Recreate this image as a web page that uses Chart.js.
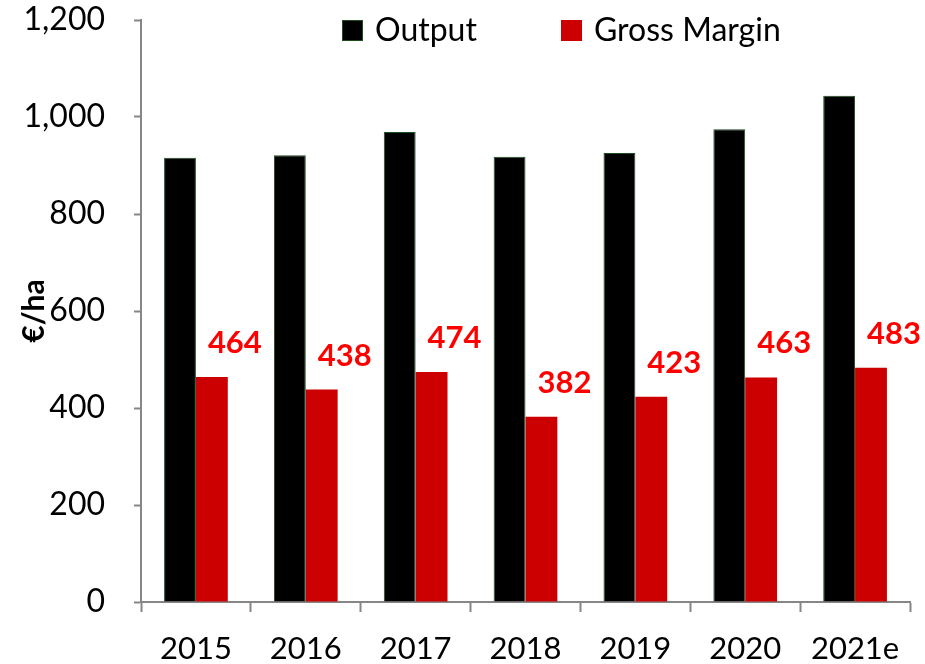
<!DOCTYPE html>
<html>
<head>
<meta charset="utf-8">
<script src="https://cdn.jsdelivr.net/npm/chart.js@4/dist/chart.umd.min.js"></script>
<style>
  html, body { margin: 0; padding: 0; background: #ffffff; }
  #wrap { width: 925px; height: 664px; position: relative; }
</style>
</head>
<body>
<div id="wrap"><canvas id="c" width="925" height="664"></canvas></div>
<script>
const categories = ['2015', '2016', '2017', '2018', '2019', '2020', '2021e'];
const outputValues = [916, 921, 969, 918, 926, 975, 1044];
const grossMarginValues = [464, 438, 474, 382, 423, 463, 483];
const seriesNames = ['Output', 'Gross Margin'];
const yAxisTitle = '€/ha';
const yMin = 0, yMax = 1200, yStep = 200;

const FONT = 'Lato, "Open Sans", sans-serif';
const AXIS_GRAY = '#868686';

const legendPlugin = {
  id: 'customLegend',
  afterDraw(chart) {
    const ctx = chart.ctx;
    const a = chart.chartArea;
    const items = chart.data.datasets;
    const starts = [a.left + 201, a.left + 420];
    ctx.save();
    ctx.font = '32px ' + FONT;
    ctx.textBaseline = 'middle';
    ctx.textAlign = 'left';
    items.forEach((ds, i) => {
      const x = starts[i];
      const y = 20;
      ctx.fillStyle = ds.backgroundColor;
      ctx.fillRect(x, y, 21, 21);
      if (ds.borderWidth) {
        ctx.strokeStyle = ds.borderColor;
        ctx.lineWidth = 1;
        ctx.strokeRect(x + 0.5, y + 0.5, 20, 20);
      }
      ctx.fillStyle = '#000000';
      ctx.fillText(ds.label, x + 33, y + 11);
    });
    ctx.restore();
  }
};

const labelPlugin = {
  id: 'gmLabels',
  afterDatasetsDraw(chart) {
    const ctx = chart.ctx;
    const meta = chart.getDatasetMeta(1);
    const data = chart.data.datasets[1].data;
    ctx.save();
    ctx.font = 'bold 31px ' + FONT;
    ctx.fillStyle = '#ff0000';
    ctx.textAlign = 'center';
    ctx.textBaseline = 'middle';
    meta.data.forEach((el, i) => {
      ctx.fillText(String(data[i]), el.x + 23, el.y - 34);
    });
    ctx.restore();
  }
};

new Chart(document.getElementById('c'), {
  type: 'bar',
  data: {
    labels: categories,
    datasets: [
      {
        label: seriesNames[0],
        data: outputValues,
        backgroundColor: '#000000',
        borderColor: '#1e4d1e',
        borderWidth: 1,
        borderSkipped: 'bottom'
      },
      {
        label: seriesNames[1],
        data: grossMarginValues,
        backgroundColor: '#cc0000',
        borderWidth: 0
      }
    ]
  },
  options: {
    responsive: false,
    animation: false,
    devicePixelRatio: 1,
    layout: { padding: { top: 20, right: 15, left: 0, bottom: 0 } },
    datasets: {
      bar: { categoryPercentage: 0.58, barPercentage: 1.0 }
    },
    plugins: {
      legend: { display: false },
      tooltip: { enabled: false }
    },
    scales: {
      x: {
        grid: {
          display: true,
          offset: true,
          drawOnChartArea: false,
          drawTicks: true,
          tickLength: 10,
          tickColor: AXIS_GRAY,
          tickWidth: 2
        },
        border: { display: true, color: AXIS_GRAY, width: 2 },
        ticks: {
          color: '#000000',
          font: { family: FONT, size: 31 },
          padding: 18,
          maxRotation: 0
        },
        afterFit(scale) { scale.height = 62; scale.paddingLeft = 0; scale.paddingRight = 0; }
      },
      y: {
        min: yMin,
        max: yMax,
        grid: {
          display: true,
          drawOnChartArea: false,
          drawTicks: true,
          tickLength: 7,
          tickColor: AXIS_GRAY,
          tickWidth: 2
        },
        border: { display: true, color: AXIS_GRAY, width: 2 },
        ticks: {
          stepSize: yStep,
          color: '#000000',
          font: { family: FONT, size: 32 },
          padding: 29,
          callback: (v) => Number(v).toLocaleString('en-US')
        },
        title: {
          display: true,
          text: yAxisTitle,
          color: '#000000',
          font: { family: FONT, size: 30, weight: 'bold' },
          padding: { top: 16, bottom: 0 }
        },
        afterFit(scale) { scale.width = 141; scale.paddingTop = 0; scale.paddingBottom = 0; }
      }
    }
  },
  plugins: [legendPlugin, labelPlugin]
});
</script>
</body>
</html>
